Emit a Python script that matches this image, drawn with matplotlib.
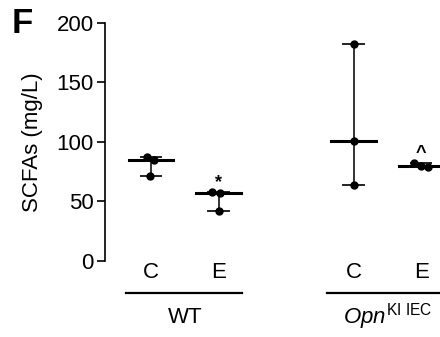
import numpy as np
import matplotlib
matplotlib.use('Agg')
from matplotlib import pyplot as plt

plt.rcParams['font.family'] = ['Liberation Sans', 'DejaVu Sans']
plt.rcParams['mathtext.fontset'] = 'custom'
plt.rcParams['mathtext.rm'] = 'Liberation Sans'
plt.rcParams['mathtext.it'] = 'Liberation Sans:italic'

# data (mg/L)
labels = ['C', 'E', 'C', 'E']
wt_c = [87, 85, 71]
wt_e = [58, 57, 42]
opn_c = [182, 101, 64]
opn_e = [82, 80, 79]
groups = [wt_c, wt_e, opn_c, opn_e]
positions = [1, 2, 4, 5]
jitter = [[-0.06, 0.05, -0.01], [-0.1, 0.02, 0.01], [0, 0, 0], [-0.1, 0.0, 0.1]]
marks = {1: '*', 3: '^'}

fig = plt.figure(figsize=(4.4, 3.37), dpi=100)
ax = fig.add_axes([0.2386, 0.2255, 0.7614, 0.7071])

for i, (vals, p) in enumerate(zip(groups, positions)):
    vals = np.array(vals)
    med = np.median(vals)
    ax.plot([p, p], [vals.min(), vals.max()], color='#333333', lw=1.4, zorder=2)
    for v in (vals.min(), vals.max()):
        ax.plot([p - 0.15, p + 0.15], [v, v], color='#222222', lw=1.4, zorder=2)
    ax.plot([p - 0.33, p + 0.33], [med, med], color='black', lw=2.2, zorder=3)
    ax.plot(p + np.array(jitter[i]), vals, 'o', color='black', ms=5, zorder=4)
    if i in marks:
        top = vals.max()
        ax.text(p, top + 8, marks[i], ha='center', va='center', fontsize=13,
                fontweight='bold')

ax.set_xlim(0.319, 5.28)
ax.set_ylim(0, 200)
ax.set_yticks([0, 50, 100, 150, 200])
ax.tick_params(axis='y', labelsize=16, length=6, width=1.2, direction='out', pad=2)
ax.set_xticks([])
for s in ['top', 'right', 'bottom']:
    ax.spines[s].set_visible(False)
ax.spines['left'].set_linewidth(1.2)
ax.spines['left'].set_bounds(0, 200)
ax.set_ylabel('SCFAs (mg/L)', fontsize=16, labelpad=10)

trans = ax.get_xaxis_transform()
for lab, p in zip(labels, positions):
    ax.text(p, -0.05, lab, transform=trans, ha='center', va='center', fontsize=16)

ax.plot([0.63, 2.35], [-0.134, -0.134], transform=trans, color='black', lw=1.6,
        clip_on=False)
ax.plot([3.61, 5.4], [-0.134, -0.134], transform=trans, color='black', lw=1.6,
        clip_on=False)
ax.text(1.5, -0.235, 'WT', transform=trans, ha='center', va='center', fontsize=16)
ax.text(4.5, -0.235, r'$\mathit{Opn}^{\mathrm{KI\ IEC}}$', transform=trans,
        ha='center', va='center', fontsize=16)

fig.text(0.027, 0.93, 'F', fontsize=25, fontweight='bold', ha='left', va='center')

fig.savefig('out.png', dpi=100)
